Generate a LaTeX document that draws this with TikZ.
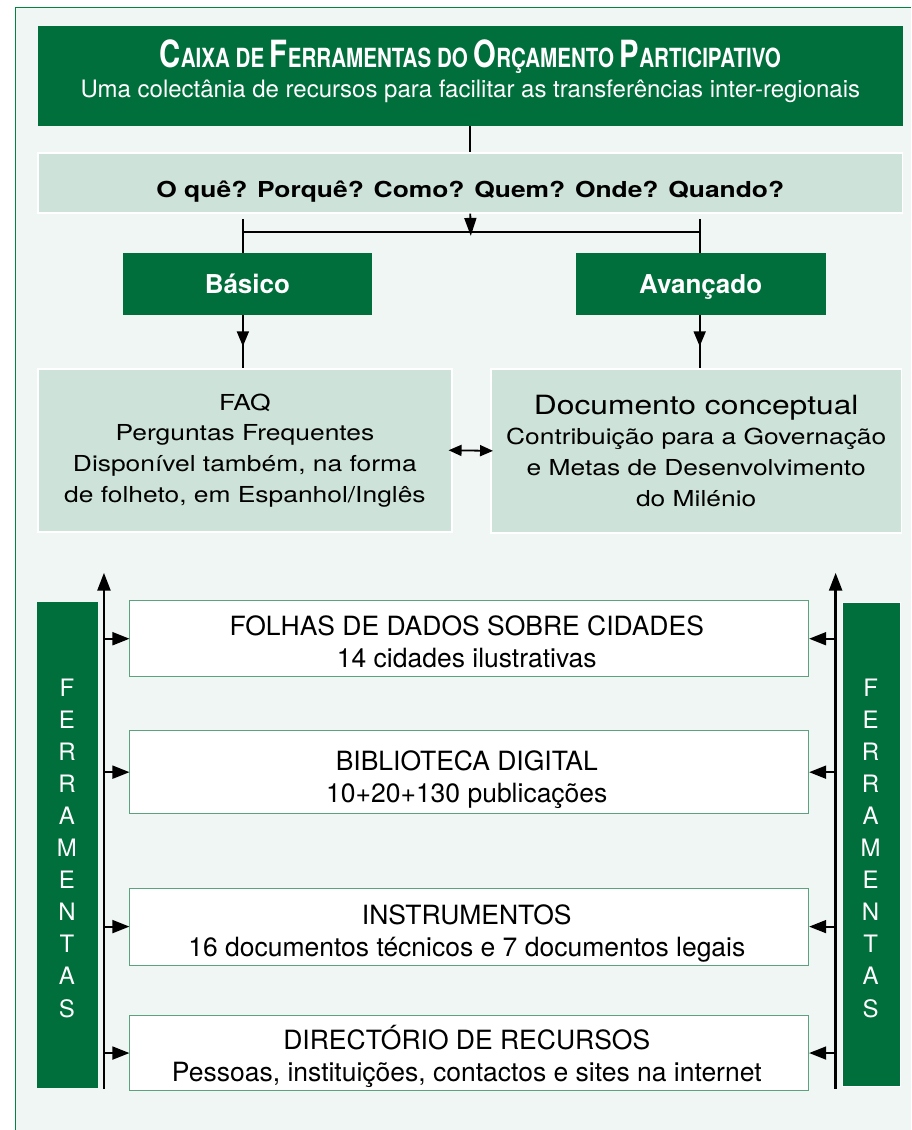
\documentclass[tikz,border=0pt]{standalone}
\usepackage{fontspec}
\setmainfont{TeX Gyre Heros}
\newfontfamily\widefont[FakeStretch=1.2]{TeX Gyre Heros}
\newfontfamily\condfont[FakeStretch=0.78]{TeX Gyre Heros}
\usetikzlibrary{arrows.meta,decorations.markings}

\definecolor{opgreen}{HTML}{006F3C}
\definecolor{oppale}{HTML}{CDE2D8}
\definecolor{opback}{HTML}{F0F6F3}
\definecolor{opline}{HTML}{5DA27E}
\definecolor{opframe}{HTML}{00853F}

% big initial + small caps for the title
\newcommand{\opsc}[2]{{\fontsize{37.5}{40}\selectfont #1}#2}

\begin{document}
\begin{tikzpicture}[x=1pt,y=-1pt,
  darkbox/.style={fill=opgreen, inner sep=0pt},
  palebox/.style={fill=oppale, draw=white, line width=1.5pt, inner sep=0pt},
  toolbox/.style={fill=white, draw=opline, line width=1pt, inner sep=0pt, minimum width=679pt},
  tooltext/.style={anchor=base, inner sep=0pt, font=\fontsize{26.5}{30}\selectfont},
  letter/.style={text=white, inner sep=0pt, text height=17pt, text depth=0pt, font=\fontsize{24}{24}\selectfont},
  lnk/.style={line width=1.8pt},
  barline/.style={line width=2.6pt},
  headarrow/.style={-{Triangle[length=17pt,width=13pt]}},
  midarrow/.style={postaction={decorate}, decoration={markings, mark=at position #1 with {\arrow{Triangle[length=15pt,width=12pt]}}}}
]
% background
\fill[white] (0,0) rectangle (911,1130);
\fill[opback] (16,7) rectangle (911,1130);
\draw[opframe, line width=1pt] (16,1130) -- (16,7) -- (911,7);
%
\node[darkbox, minimum width=865pt, minimum height=100pt] (title) at (470.5,76) {};
\node[anchor=base, inner sep=0pt, text=white, font=\condfont\bfseries\fontsize{26.4}{30}\selectfont] (titletxt) at (470.5,68)
  {\opsc{C}{AIXA} DE \opsc{F}{ERRAMENTAS} DO \opsc{O}{RÇAMENTO} \opsc{P}{ARTICIPATIVO}};
\node[anchor=base, inner sep=0pt, text=white, font=\fontsize{24}{28}\selectfont] (subtxt) at (470.5,98)
  {Uma colectânia de recursos para facilitar as transferências inter-regionais};
%
\node[palebox, minimum width=865pt, minimum height=60pt] (qband) at (470.5,183) {};
\node[anchor=base, inner sep=0pt, font=\widefont\bfseries\fontsize{22}{26}\selectfont] (qtxt) at (470.5,197.5)
  {O quê? Porquê? Como? Quem? Onde? Quando?};
%
\node[darkbox, minimum width=249pt, minimum height=62pt, text=white, text height=18.7pt, text depth=0pt,
  font=\bfseries\fontsize{26}{30}\selectfont] (basico) at (247.5,284) {Básico};
\node[darkbox, minimum width=250pt, minimum height=62pt, text=white, text height=18.7pt, text depth=0pt,
  font=\bfseries\fontsize{26}{30}\selectfont] (avancado) at (701,284) {Avançado};
%
\node[palebox, minimum width=414pt, minimum height=163pt, align=center,
  font=\widefont\fontsize{22}{30.7}\selectfont] (faq) at (245,450.5)
  {FAQ\\Perguntas Frequentes\\Disponível também, na forma\\de folheto, em Espanhol/Inglês};
\node[palebox, minimum width=411pt, minimum height=164pt, align=center,
  font=\widefont\fontsize{22}{30.7}\selectfont] (doc) at (696.5,451)
  {{\fontsize{26.5}{32}\selectfont Documento conceptual}\\Contribuição para a Governação\\e Metas de Desenvolvimento\\do Milénio};
%
\coordinate (hub) at (471,232);
\coordinate (lt) at (243,219);
\coordinate (rt) at (700,219);
\draw[lnk] (title.south) -- (qband.north);
\draw[lnk, -{Triangle[length=18pt,width=12pt]}] (qband.south) -- ([yshift=-4pt]hub);
\draw[lnk] (lt |- hub) -- (rt |- hub);
\draw[lnk] (lt) -- (lt |- basico.north);
\draw[lnk] (rt) -- (rt |- avancado.north);
\draw[lnk, midarrow=0.59] (lt |- basico.south) -- (lt |- faq.north);
\draw[lnk, midarrow=0.59] (rt |- avancado.south) -- (rt |- doc.north);
\draw[lnk, shorten <=-4pt, shorten >=-3pt, {Triangle[length=13pt,width=11pt]}-{Triangle[length=13pt,width=11pt]}]
  (faq.east) -- (doc.west);
%%%%%%%%%%%%%%%%%%%%%%%%%%%%%%%
\node[darkbox, minimum width=61pt, minimum height=486pt] (barL) at (67.5,845) {};
\node[darkbox, draw=white, line width=1pt, minimum width=58pt, minimum height=484pt] (barR) at (872,845) {};
\foreach \c [count=\i from 0] in {F,E,R,R,A,M,E,N,T,A,S}{
  \node[letter] (fl\i) at (67,{688+32.1*\i}) {\c};
  \node[letter] (fr\i) at (871,{688+32.1*\i}) {\c};
}
%
\coordinate (upL) at (104,573);
\coordinate (lowL) at (104,1089);
\coordinate (upR) at (836,573);
\coordinate (lowR) at (836,1089);
\draw[barline, -{Triangle[length=18pt,width=13pt]}] (lowL) -- (upL);
\draw[barline, -{Triangle[length=18pt,width=13pt]}] (lowR) -- (upR);
%
\foreach \nm/\yc/\hh/\bl/\la/\lb in {
  folhas/639/76/636/{FOLHAS DE DADOS SOBRE CIDADES}/{14 cidades ilustrativas},
  biblio/772.5/83/771/{BIBLIOTECA DIGITAL}/{10+20+130 publicações},
  instr/927/77/925/{INSTRUMENTOS}/{16 documentos técnicos e 7 documentos legais},
  direct/1053.5/75/1050/{DIRECTÓRIO DE RECURSOS}/{Pessoas, instituições, contactos e sites na internet}}{
  \node[toolbox, minimum height=\hh pt] (\nm) at (469.5,\yc) {};
  \node[tooltext] (\nm a) at (467,\bl) {\la};
  \node[tooltext] (\nm b) at (467,{\bl+31.5}) {\lb};
  \draw[lnk, headarrow] (upL |- \nm.west) -- (\nm.west);
  \draw[lnk, headarrow] (upR |- \nm.east) -- (\nm.east);
}
\end{tikzpicture}
\end{document}
